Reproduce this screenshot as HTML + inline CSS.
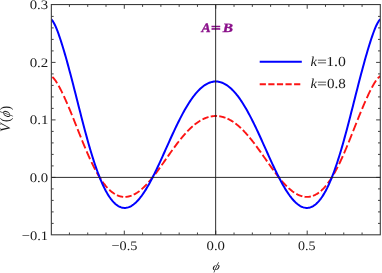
<!DOCTYPE html>
<html><head><meta charset="utf-8">
<style>
html,body{margin:0;padding:0;background:#fff;}
body{width:382px;height:273px;overflow:hidden;}
svg{display:block;}
text{font-family:"Liberation Serif",serif;fill:#1a1a1a;text-rendering:geometricPrecision;}
#txt{filter:blur(0.3px);}
</style></head><body>
<svg width="382" height="273" viewBox="0 0 382 273">
<rect width="382" height="273" fill="#fff"/>
<clipPath id="c"><rect x="51.35" y="4.55" width="328.95" height="230.25"/></clipPath>
<g clip-path="url(#c)" fill="none" stroke-linejoin="round">
<path d="M52.33,77.00 L52.69,77.31 L53.06,77.65 L53.43,78.03 L53.79,78.43 L54.16,78.87 L54.52,79.32 L54.89,79.80 L55.26,80.30 L55.62,80.82 L55.99,81.36 L56.35,81.92 L56.72,82.50 L57.08,83.09 L57.18,83.24 M58.64,85.77 L59.00,86.43 L59.37,87.11 L59.74,87.79 L60.10,88.49 L60.47,89.20 L60.83,89.92 L61.20,90.64 L61.57,91.38 L61.93,92.12 L62.30,92.88 L62.48,93.26 M63.85,96.16 L64.22,96.96 L64.58,97.76 L64.95,98.56 L65.31,99.38 L65.68,100.20 L66.05,101.02 L66.41,101.85 L66.78,102.69 L67.14,103.53 L67.33,103.96 M68.61,106.96 L68.97,107.83 L69.34,108.70 L69.70,109.58 L70.07,110.46 L70.44,111.34 L70.80,112.23 L71.17,113.12 L71.53,114.02 L71.90,114.92 L71.99,115.14 M73.18,118.09 L73.55,119.00 L73.91,119.91 L74.28,120.83 L74.64,121.75 L75.01,122.66 L75.37,123.58 L75.74,124.51 L76.11,125.43 L76.38,126.12 M77.57,129.12 L77.93,130.04 L78.30,130.97 L78.67,131.89 L79.03,132.81 L79.40,133.73 L79.76,134.65 L80.13,135.57 L80.50,136.48 L80.86,137.39 L80.86,137.39 M82.05,140.35 L82.42,141.25 L82.78,142.15 L83.15,143.05 L83.51,143.94 L83.88,144.83 L84.24,145.72 L84.61,146.60 L84.98,147.47 L85.34,148.35 L85.34,148.35 M86.62,151.36 L86.99,152.21 L87.35,153.06 L87.72,153.90 L88.09,154.73 L88.45,155.56 L88.82,156.38 L89.18,157.20 L89.55,158.01 L89.91,158.81 L90.10,159.21 M91.47,162.14 L91.84,162.91 L92.20,163.67 L92.57,164.42 L92.93,165.16 L93.30,165.90 L93.66,166.63 L94.03,167.35 L94.40,168.06 L94.76,168.77 L95.13,169.46 L95.22,169.64 M96.68,172.33 L97.05,172.99 L97.41,173.63 L97.78,174.27 L98.15,174.89 L98.51,175.51 L98.88,176.12 L99.24,176.72 L99.61,177.32 L99.97,177.90 L100.34,178.47 L100.71,179.04 L100.98,179.46 M102.53,181.74 L102.90,182.25 L103.27,182.75 L103.63,183.25 L104.00,183.73 L104.36,184.21 L104.73,184.67 L105.10,185.13 L105.46,185.58 L105.83,186.02 L106.19,186.45 L106.56,186.87 L106.92,187.29 L107.29,187.69 L107.47,187.89 M109.30,189.75 L109.67,190.10 L110.03,190.43 L110.40,190.76 L110.77,191.08 L111.13,191.39 L111.50,191.69 L111.86,191.98 L112.23,192.27 L112.59,192.54 L112.96,192.81 L113.33,193.07 L113.69,193.32 L114.06,193.56 L114.42,193.79 L114.79,194.01 L114.88,194.07 M116.98,195.18 L117.35,195.34 L117.72,195.50 L118.08,195.64 L118.45,195.78 L118.81,195.91 L119.18,196.04 L119.54,196.15 L119.91,196.26 L120.28,196.36 L120.64,196.45 L121.01,196.53 L121.37,196.60 L121.74,196.67 L122.11,196.73 L122.47,196.78 L122.84,196.82 L123.20,196.86 L123.20,196.86 M125.40,196.90 L125.76,196.88 L126.13,196.85 L126.49,196.82 L126.86,196.78 L127.23,196.73 L127.59,196.67 L127.96,196.60 L128.32,196.53 L128.69,196.45 L129.06,196.36 L129.42,196.27 L129.79,196.17 L130.15,196.06 L130.52,195.94 L130.88,195.82 L131.25,195.69 L131.62,195.55 L131.62,195.55 M133.72,194.63 L134.09,194.44 L134.45,194.25 L134.82,194.05 L135.18,193.85 L135.55,193.64 L135.91,193.42 L136.28,193.20 L136.65,192.96 L137.01,192.73 L137.38,192.48 L137.74,192.23 L138.11,191.98 L138.47,191.71 L138.84,191.45 L139.21,191.17 L139.48,190.96 M141.49,189.31 L141.86,189.00 L142.22,188.67 L142.59,188.34 L142.96,188.01 L143.32,187.67 L143.69,187.32 L144.05,186.97 L144.42,186.61 L144.78,186.25 L145.15,185.88 L145.52,185.51 L145.88,185.13 L146.25,184.75 L146.61,184.36 L146.80,184.17 M148.63,182.15 L148.99,181.73 L149.36,181.31 L149.72,180.89 L150.09,180.46 L150.45,180.02 L150.82,179.59 L151.19,179.14 L151.55,178.70 L151.92,178.25 L152.28,177.80 L152.65,177.34 L153.02,176.88 L153.38,176.42 L153.56,176.18 M155.21,174.05 L155.58,173.57 L155.94,173.08 L156.31,172.60 L156.67,172.11 L157.04,171.62 L157.40,171.12 L157.77,170.62 L158.14,170.12 L158.50,169.62 L158.87,169.12 L159.23,168.62 L159.60,168.11 L159.97,167.60 L159.97,167.60 M161.61,165.29 L161.98,164.78 L162.34,164.26 L162.71,163.74 L163.07,163.22 L163.44,162.70 L163.81,162.18 L164.17,161.66 L164.54,161.14 L164.90,160.62 L165.27,160.09 L165.64,159.57 L166.00,159.05 L166.18,158.79 M167.83,156.44 L168.20,155.92 L168.56,155.40 L168.93,154.88 L169.29,154.36 L169.66,153.84 L170.03,153.32 L170.39,152.81 L170.76,152.29 L171.12,151.78 L171.49,151.26 L171.85,150.75 L172.22,150.24 L172.40,149.99 M174.14,147.59 L174.51,147.09 L174.87,146.60 L175.24,146.10 L175.60,145.61 L175.97,145.12 L176.34,144.63 L176.70,144.15 L177.07,143.66 L177.43,143.18 L177.80,142.70 L178.16,142.23 L178.53,141.76 L178.90,141.29 L178.90,141.29 M180.54,139.21 L180.91,138.76 L181.27,138.31 L181.64,137.87 L182.00,137.43 L182.37,136.99 L182.74,136.55 L183.10,136.12 L183.47,135.69 L183.83,135.27 L184.20,134.85 L184.57,134.43 L184.93,134.02 L185.30,133.61 L185.57,133.30 M187.40,131.33 L187.77,130.95 L188.13,130.58 L188.50,130.20 L188.86,129.83 L189.23,129.47 L189.60,129.11 L189.96,128.75 L190.33,128.40 L190.69,128.06 L191.06,127.71 L191.42,127.38 L191.79,127.04 L192.16,126.71 L192.52,126.39 L192.70,126.23 M194.63,124.62 L194.99,124.33 L195.36,124.04 L195.72,123.76 L196.09,123.48 L196.45,123.21 L196.82,122.94 L197.19,122.68 L197.55,122.42 L197.92,122.17 L198.28,121.92 L198.65,121.68 L199.01,121.44 L199.38,121.21 L199.75,120.98 L200.11,120.76 L200.39,120.59 M202.49,119.43 L202.86,119.25 L203.22,119.07 L203.59,118.89 L203.95,118.72 L204.32,118.56 L204.68,118.40 L205.05,118.25 L205.42,118.10 L205.78,117.95 L206.15,117.82 L206.51,117.68 L206.88,117.55 L207.25,117.43 L207.61,117.31 L207.98,117.20 L208.34,117.09 L208.53,117.04 M210.72,116.52 L211.09,116.45 L211.45,116.39 L211.82,116.33 L212.18,116.27 L212.55,116.23 L212.92,116.18 L213.28,116.15 L213.65,116.11 L214.01,116.09 L214.38,116.06 L214.74,116.05 L215.11,116.04 L215.48,116.03 L215.84,116.03 L216.21,116.03 L216.57,116.04 L216.94,116.05 L217.03,116.06 M219.23,116.26 L219.59,116.31 L219.96,116.37 L220.32,116.43 L220.69,116.50 L221.05,116.57 L221.42,116.65 L221.79,116.73 L222.15,116.82 L222.52,116.92 L222.88,117.01 L223.25,117.12 L223.61,117.23 L223.98,117.34 L224.35,117.46 L224.71,117.58 L225.08,117.71 L225.44,117.85 L225.44,117.85 M227.55,118.72 L227.91,118.89 L228.28,119.07 L228.64,119.25 L229.01,119.43 L229.38,119.62 L229.74,119.82 L230.11,120.02 L230.47,120.22 L230.84,120.43 L231.21,120.65 L231.57,120.87 L231.94,121.09 L232.30,121.32 L232.67,121.56 L233.03,121.80 L233.40,122.04 L233.40,122.04 M235.41,123.48 L235.78,123.76 L236.14,124.04 L236.51,124.33 L236.87,124.62 L237.24,124.92 L237.61,125.22 L237.97,125.52 L238.34,125.84 L238.70,126.15 L239.07,126.47 L239.44,126.80 L239.80,127.13 L240.17,127.46 L240.53,127.80 L240.90,128.14 L240.90,128.14 M242.82,130.02 L243.19,130.39 L243.55,130.76 L243.92,131.14 L244.28,131.53 L244.65,131.91 L245.01,132.31 L245.38,132.70 L245.75,133.10 L246.11,133.51 L246.48,133.91 L246.84,134.33 L247.21,134.74 L247.57,135.16 L247.94,135.59 L247.94,135.59 M249.68,137.65 L250.04,138.09 L250.41,138.54 L250.78,138.99 L251.14,139.44 L251.51,139.90 L251.87,140.36 L252.24,140.82 L252.60,141.29 L252.97,141.76 L253.34,142.23 L253.70,142.70 L254.07,143.18 L254.43,143.66 L254.52,143.78 M256.26,146.10 L256.63,146.60 L256.99,147.09 L257.36,147.59 L257.73,148.09 L258.09,148.60 L258.46,149.10 L258.82,149.61 L259.19,150.12 L259.55,150.62 L259.92,151.14 L260.29,151.65 L260.65,152.16 L260.93,152.55 M262.57,154.88 L262.94,155.40 L263.30,155.92 L263.67,156.44 L264.04,156.96 L264.40,157.48 L264.77,158.00 L265.13,158.53 L265.50,159.05 L265.86,159.57 L266.23,160.09 L266.60,160.62 L266.96,161.14 L267.14,161.40 M268.79,163.74 L269.16,164.26 L269.52,164.78 L269.89,165.29 L270.25,165.81 L270.62,166.32 L270.99,166.83 L271.35,167.34 L271.72,167.85 L272.08,168.36 L272.45,168.87 L272.81,169.37 L273.18,169.87 L273.45,170.25 M275.10,172.47 L275.47,172.96 L275.83,173.45 L276.20,173.93 L276.56,174.41 L276.93,174.89 L277.30,175.36 L277.66,175.83 L278.03,176.30 L278.39,176.76 L278.76,177.22 L279.12,177.68 L279.49,178.14 L279.86,178.59 L279.86,178.59 M281.69,180.78 L282.05,181.21 L282.42,181.63 L282.78,182.05 L283.15,182.46 L283.51,182.87 L283.88,183.28 L284.25,183.68 L284.61,184.07 L284.98,184.46 L285.34,184.85 L285.71,185.23 L286.08,185.60 L286.44,185.98 L286.81,186.34 L286.81,186.34 M288.64,188.09 L289.00,188.43 L289.37,188.75 L289.73,189.08 L290.10,189.39 L290.46,189.70 L290.83,190.01 L291.20,190.31 L291.56,190.60 L291.93,190.89 L292.29,191.17 L292.66,191.45 L293.03,191.71 L293.39,191.98 L293.76,192.23 L294.12,192.48 L294.21,192.54 M296.32,193.85 L296.68,194.05 L297.05,194.25 L297.41,194.44 L297.78,194.63 L298.15,194.80 L298.51,194.97 L298.88,195.14 L299.24,195.30 L299.61,195.45 L299.98,195.59 L300.34,195.72 L300.71,195.85 L301.07,195.97 L301.44,196.09 L301.80,196.19 L302.17,196.29 L302.35,196.34 M304.55,196.76 L304.91,196.81 L305.28,196.84 L305.65,196.87 L306.01,196.90 L306.38,196.91 L306.74,196.92 L307.11,196.91 L307.47,196.90 L307.84,196.89 L308.21,196.86 L308.57,196.83 L308.94,196.79 L309.30,196.74 L309.67,196.69 L310.03,196.62 L310.40,196.55 L310.77,196.47 L310.86,196.45 M312.96,195.82 L313.33,195.68 L313.69,195.53 L314.06,195.38 L314.42,195.22 L314.79,195.05 L315.16,194.87 L315.52,194.68 L315.89,194.48 L316.25,194.28 L316.62,194.07 L316.99,193.85 L317.35,193.62 L317.72,193.38 L318.08,193.13 L318.45,192.88 L318.81,192.61 L318.91,192.54 M320.83,191.00 L321.19,190.68 L321.56,190.35 L321.92,190.01 L322.29,189.66 L322.66,189.31 L323.02,188.94 L323.39,188.57 L323.75,188.18 L324.12,187.79 L324.48,187.39 L324.85,186.98 L325.22,186.56 L325.58,186.13 L325.95,185.69 L326.04,185.58 M327.78,183.37 L328.14,182.88 L328.51,182.38 L328.87,181.87 L329.24,181.35 L329.61,180.82 L329.97,180.28 L330.34,179.74 L330.70,179.18 L331.07,178.62 L331.43,178.04 L331.80,177.46 L332.17,176.87 L332.26,176.72 M333.81,174.11 L334.18,173.47 L334.54,172.82 L334.91,172.17 L335.28,171.50 L335.64,170.83 L336.01,170.15 L336.37,169.46 L336.74,168.77 L337.10,168.06 L337.47,167.35 L337.74,166.81 M339.12,164.04 L339.48,163.29 L339.85,162.53 L340.21,161.76 L340.58,160.98 L340.95,160.20 L341.31,159.41 L341.68,158.61 L342.04,157.80 L342.41,156.99 L342.77,156.18 L342.77,156.18 M344.05,153.27 L344.42,152.43 L344.79,151.58 L345.15,150.72 L345.52,149.86 L345.88,149.00 L346.25,148.13 L346.61,147.25 L346.98,146.38 L347.35,145.49 L347.44,145.27 M348.63,142.38 L348.99,141.48 L349.36,140.57 L349.72,139.67 L350.09,138.76 L350.46,137.85 L350.82,136.94 L351.19,136.02 L351.55,135.11 L351.92,134.19 L351.92,134.19 M353.11,131.20 L353.47,130.27 L353.84,129.35 L354.21,128.43 L354.57,127.50 L354.94,126.58 L355.30,125.66 L355.67,124.74 L356.03,123.81 L356.40,122.89 L356.40,122.89 M357.59,119.91 L357.95,119.00 L358.32,118.09 L358.69,117.18 L359.05,116.27 L359.42,115.37 L359.78,114.47 L360.15,113.57 L360.52,112.68 L360.88,111.79 L360.88,111.79 M362.07,108.92 L362.44,108.04 L362.80,107.17 L363.17,106.31 L363.53,105.45 L363.90,104.60 L364.26,103.75 L364.63,102.90 L365.00,102.06 L365.36,101.23 L365.45,101.02 M366.73,98.16 L367.10,97.36 L367.47,96.56 L367.83,95.77 L368.20,94.99 L368.56,94.21 L368.93,93.45 L369.29,92.69 L369.66,91.94 L370.03,91.19 L370.39,90.46 L370.48,90.28 M371.86,87.62 L372.22,86.94 L372.59,86.26 L372.95,85.60 L373.32,84.95 L373.68,84.32 L374.05,83.70 L374.42,83.09 L374.78,82.50 L375.15,81.92 L375.51,81.36 L375.88,80.82 L376.06,80.56 M377.80,78.33 L378.17,77.93 L378.53,77.57 L378.90,77.23 L379.26,76.92 L379.63,76.65 L379.99,76.42 L380.36,76.23 L380.36,76.23" stroke="#fc1414" stroke-width="1.9"/>
<path d="M51.14,19.32 L52.05,20.19 L52.97,21.41 L53.88,22.93 L54.80,24.71 L55.71,26.70 L56.63,28.89 L57.54,31.23 L58.46,33.71 L59.37,36.32 L60.28,39.03 L61.20,41.84 L62.11,44.74 L63.03,47.72 L63.94,50.78 L64.86,53.90 L65.77,57.09 L66.69,60.34 L67.60,63.64 L68.52,67.00 L69.43,70.40 L70.34,73.84 L71.26,77.32 L72.17,80.83 L73.09,84.37 L74.00,87.93 L74.92,91.52 L75.83,95.11 L76.75,98.72 L77.66,102.32 L78.57,105.93 L79.49,109.52 L80.40,113.11 L81.32,116.67 L82.23,120.21 L83.15,123.72 L84.06,127.20 L84.98,130.64 L85.89,134.04 L86.81,137.38 L87.72,140.68 L88.63,143.92 L89.55,147.10 L90.46,150.21 L91.38,153.26 L92.29,156.24 L93.21,159.14 L94.12,161.97 L95.04,164.73 L95.95,167.40 L96.86,169.99 L97.78,172.50 L98.69,174.93 L99.61,177.27 L100.52,179.52 L101.44,181.69 L102.35,183.77 L103.27,185.76 L104.18,187.67 L105.10,189.48 L106.01,191.21 L106.92,192.85 L107.84,194.40 L108.75,195.86 L109.67,197.24 L110.58,198.53 L111.50,199.73 L112.41,200.85 L113.33,201.88 L114.24,202.83 L115.15,203.69 L116.07,204.47 L116.98,205.17 L117.90,205.79 L118.81,206.33 L119.73,206.78 L120.64,207.16 L121.56,207.46 L122.47,207.68 L123.39,207.82 L124.30,207.89 L125.21,207.88 L126.13,207.80 L127.04,207.64 L127.96,207.41 L128.87,207.10 L129.79,206.73 L130.70,206.28 L131.62,205.76 L132.53,205.18 L133.44,204.53 L134.36,203.81 L135.27,203.02 L136.19,202.17 L137.10,201.25 L138.02,200.28 L138.93,199.24 L139.85,198.14 L140.76,196.98 L141.68,195.77 L142.59,194.50 L143.50,193.17 L144.42,191.79 L145.33,190.37 L146.25,188.89 L147.16,187.36 L148.08,185.79 L148.99,184.17 L149.91,182.51 L150.82,180.81 L151.74,179.08 L152.65,177.30 L153.56,175.50 L154.48,173.66 L155.39,171.79 L156.31,169.90 L157.22,167.98 L158.14,166.03 L159.05,164.07 L159.97,162.09 L160.88,160.09 L161.79,158.08 L162.71,156.06 L163.62,154.03 L164.54,151.99 L165.45,149.95 L166.37,147.91 L167.28,145.87 L168.20,143.83 L169.11,141.80 L170.03,139.78 L170.94,137.77 L171.85,135.76 L172.77,133.78 L173.68,131.80 L174.60,129.85 L175.51,127.92 L176.43,126.01 L177.34,124.12 L178.26,122.26 L179.17,120.43 L180.08,118.63 L181.00,116.85 L181.91,115.11 L182.83,113.40 L183.74,111.73 L184.66,110.10 L185.57,108.50 L186.49,106.94 L187.40,105.42 L188.31,103.94 L189.23,102.51 L190.14,101.11 L191.06,99.76 L191.97,98.46 L192.89,97.20 L193.80,95.99 L194.72,94.82 L195.63,93.70 L196.55,92.62 L197.46,91.60 L198.37,90.62 L199.29,89.69 L200.20,88.81 L201.12,87.98 L202.03,87.20 L202.95,86.47 L203.86,85.78 L204.78,85.15 L205.69,84.57 L206.60,84.04 L207.52,83.56 L208.43,83.13 L209.35,82.75 L210.26,82.42 L211.18,82.14 L212.09,81.91 L213.01,81.73 L213.92,81.61 L214.84,81.53 L215.75,81.51 L216.66,81.53 L217.58,81.61 L218.49,81.73 L219.41,81.91 L220.32,82.14 L221.24,82.42 L222.15,82.75 L223.07,83.13 L223.98,83.56 L224.90,84.04 L225.81,84.57 L226.72,85.15 L227.64,85.78 L228.55,86.47 L229.47,87.20 L230.38,87.98 L231.30,88.81 L232.21,89.69 L233.13,90.62 L234.04,91.60 L234.95,92.62 L235.87,93.70 L236.78,94.82 L237.70,95.99 L238.61,97.20 L239.53,98.46 L240.44,99.76 L241.36,101.11 L242.27,102.51 L243.19,103.94 L244.10,105.42 L245.01,106.94 L245.93,108.50 L246.84,110.10 L247.76,111.73 L248.67,113.40 L249.59,115.11 L250.50,116.85 L251.42,118.63 L252.33,120.43 L253.24,122.26 L254.16,124.12 L255.07,126.01 L255.99,127.92 L256.90,129.85 L257.82,131.80 L258.73,133.78 L259.65,135.76 L260.56,137.77 L261.48,139.78 L262.39,141.80 L263.30,143.83 L264.22,145.87 L265.13,147.91 L266.05,149.95 L266.96,151.99 L267.88,154.03 L268.79,156.06 L269.71,158.08 L270.62,160.09 L271.53,162.09 L272.45,164.07 L273.36,166.03 L274.28,167.98 L275.19,169.90 L276.11,171.79 L277.02,173.66 L277.94,175.50 L278.85,177.30 L279.76,179.08 L280.68,180.81 L281.59,182.51 L282.51,184.17 L283.42,185.79 L284.34,187.36 L285.25,188.89 L286.17,190.37 L287.08,191.79 L288.00,193.17 L288.91,194.50 L289.82,195.77 L290.74,196.98 L291.65,198.14 L292.57,199.24 L293.48,200.28 L294.40,201.25 L295.31,202.17 L296.23,203.02 L297.14,203.81 L298.06,204.53 L298.97,205.18 L299.88,205.76 L300.80,206.28 L301.71,206.73 L302.63,207.10 L303.54,207.41 L304.46,207.64 L305.37,207.80 L306.29,207.88 L307.20,207.89 L308.11,207.82 L309.03,207.68 L309.94,207.46 L310.86,207.16 L311.77,206.78 L312.69,206.33 L313.60,205.79 L314.52,205.17 L315.43,204.47 L316.34,203.69 L317.26,202.83 L318.17,201.88 L319.09,200.85 L320.00,199.73 L320.92,198.53 L321.83,197.24 L322.75,195.86 L323.66,194.40 L324.58,192.85 L325.49,191.21 L326.40,189.48 L327.32,187.67 L328.23,185.76 L329.15,183.77 L330.06,181.69 L330.98,179.52 L331.89,177.27 L332.81,174.93 L333.72,172.50 L334.63,169.99 L335.55,167.40 L336.46,164.73 L337.38,161.97 L338.29,159.14 L339.21,156.24 L340.12,153.26 L341.04,150.21 L341.95,147.10 L342.87,143.92 L343.78,140.68 L344.69,137.38 L345.61,134.04 L346.52,130.64 L347.44,127.20 L348.35,123.72 L349.27,120.21 L350.18,116.67 L351.10,113.11 L352.01,109.52 L352.93,105.93 L353.84,102.32 L354.75,98.72 L355.67,95.11 L356.58,91.52 L357.50,87.93 L358.41,84.37 L359.33,80.83 L360.24,77.32 L361.16,73.84 L362.07,70.40 L362.98,67.00 L363.90,63.64 L364.81,60.34 L365.73,57.09 L366.64,53.90 L367.56,50.78 L368.47,47.72 L369.39,44.74 L370.30,41.84 L371.22,39.03 L372.13,36.32 L373.04,33.71 L373.96,31.23 L374.87,28.89 L375.79,26.70 L376.70,24.71 L377.62,22.93 L378.53,21.41 L379.45,20.19 L380.36,19.32" stroke="#0000ff" stroke-width="2"/>
</g>
<g stroke="#2a2a2a" stroke-width="0.9" fill="none">
<path d="M69.43,234.8 v-2.3 M69.43,4.55 v2.3"/>
<path d="M87.72,234.8 v-2.3 M87.72,4.55 v2.3"/>
<path d="M106.01,234.8 v-2.3 M106.01,4.55 v2.3"/>
<path d="M124.30,234.8 v-4.2 M124.30,4.55 v4.2"/>
<path d="M142.59,234.8 v-2.3 M142.59,4.55 v2.3"/>
<path d="M160.88,234.8 v-2.3 M160.88,4.55 v2.3"/>
<path d="M179.17,234.8 v-2.3 M179.17,4.55 v2.3"/>
<path d="M197.46,234.8 v-2.3 M197.46,4.55 v2.3"/>
<path d="M215.75,234.8 v-4.2 M215.75,4.55 v4.2"/>
<path d="M234.04,234.8 v-2.3 M234.04,4.55 v2.3"/>
<path d="M252.33,234.8 v-2.3 M252.33,4.55 v2.3"/>
<path d="M270.62,234.8 v-2.3 M270.62,4.55 v2.3"/>
<path d="M288.91,234.8 v-2.3 M288.91,4.55 v2.3"/>
<path d="M307.20,234.8 v-4.2 M307.20,4.55 v4.2"/>
<path d="M325.49,234.8 v-2.3 M325.49,4.55 v2.3"/>
<path d="M343.78,234.8 v-2.3 M343.78,4.55 v2.3"/>
<path d="M362.07,234.8 v-2.3 M362.07,4.55 v2.3"/>
<path d="M51.35,223.40 h2.3 M380.3,223.40 h-2.3"/>
<path d="M51.35,211.90 h2.3 M380.3,211.90 h-2.3"/>
<path d="M51.35,200.40 h2.3 M380.3,200.40 h-2.3"/>
<path d="M51.35,188.90 h2.3 M380.3,188.90 h-2.3"/>
<path d="M51.35,177.40 h4.2 M380.3,177.40 h-4.2"/>
<path d="M51.35,165.90 h2.3 M380.3,165.90 h-2.3"/>
<path d="M51.35,154.40 h2.3 M380.3,154.40 h-2.3"/>
<path d="M51.35,142.90 h2.3 M380.3,142.90 h-2.3"/>
<path d="M51.35,131.40 h2.3 M380.3,131.40 h-2.3"/>
<path d="M51.35,119.90 h4.2 M380.3,119.90 h-4.2"/>
<path d="M51.35,108.40 h2.3 M380.3,108.40 h-2.3"/>
<path d="M51.35,96.90 h2.3 M380.3,96.90 h-2.3"/>
<path d="M51.35,85.40 h2.3 M380.3,85.40 h-2.3"/>
<path d="M51.35,73.90 h2.3 M380.3,73.90 h-2.3"/>
<path d="M51.35,62.40 h4.2 M380.3,62.40 h-4.2"/>
<path d="M51.35,50.90 h2.3 M380.3,50.90 h-2.3"/>
<path d="M51.35,39.40 h2.3 M380.3,39.40 h-2.3"/>
<path d="M51.35,27.90 h2.3 M380.3,27.90 h-2.3"/>
<path d="M51.35,16.40 h2.3 M380.3,16.40 h-2.3"/>
</g>
<rect x="51.35" y="4.55" width="328.95" height="230.25" fill="none" stroke="#3c3c3c" stroke-width="1.1"/>
<!-- legend -->
<path d="M259.7,61.75 H301.8" stroke="#0000ff" stroke-width="2" fill="none"/>
<path d="M259.7,84.3 H301.8" stroke="#fc1414" stroke-width="1.9" stroke-dasharray="6.2 2.4" fill="none"/>
<g id="txt">
<text transform="translate(111.49,250.00) scale(1.097,1)" font-size="13.0">−0.5</text>
<text transform="translate(206.54,250.00) scale(1.134,1)" font-size="13.0">0.0</text>
<text transform="translate(298.07,250.00) scale(1.076,1)" font-size="13.0">0.5</text>
<text transform="translate(29.64,9.40) scale(1.135,1)" font-size="13.0">0.3</text>
<text transform="translate(29.63,66.90) scale(1.150,1)" font-size="13.0">0.2</text>
<text transform="translate(29.63,124.40) scale(1.155,1)" font-size="13.0">0.1</text>
<text transform="translate(29.64,181.90) scale(1.134,1)" font-size="13.0">0.0</text>
<text transform="translate(21.68,239.50) scale(1.119,1)" font-size="13.0">−0.1</text>
<text transform="translate(310.48,65.60) scale(1.062,1)" font-size="13.8" font-style="italic">k</text>
<text transform="translate(316.92,65.60) scale(1.277,1)" font-size="13.8">=</text>
<text transform="translate(326.22,65.60) scale(1.141,1)" font-size="13.8">1.0</text>
<text transform="translate(310.48,88.10) scale(1.062,1)" font-size="13.8" font-style="italic">k</text>
<text transform="translate(316.92,88.10) scale(1.277,1)" font-size="13.8">=</text>
<text transform="translate(327.03,88.10) scale(1.093,1)" font-size="13.8">0.8</text>
<text transform="translate(201.51,31.60) scale(1.072,1)" font-size="12.8" font-style="italic" font-weight="bold" style="fill:#8a108a;stroke:#8a108a;stroke-width:0.35">A</text>
<text transform="translate(211.03,31.60) scale(1.311,1)" font-size="12.8" font-style="italic" font-weight="bold" style="fill:#8a108a;stroke:#8a108a;stroke-width:0.7">=</text>
<text transform="translate(222.64,31.60) scale(1.198,1)" font-size="12.8" font-style="italic" font-weight="bold" style="fill:#8a108a;stroke:#8a108a;stroke-width:0.35">B</text>
<text transform="translate(211.91,270.10) skewX(-14) scale(1.202,1)" font-size="11.3" font-style="italic">ϕ</text>
<g transform="translate(10.3,119) scale(1.2,1) rotate(-90)"><text transform="translate(-12.93,0.00) scale(1.171,1)" font-size="12" font-style="italic">V</text><text transform="translate(-2.98,0.00) scale(1.103,1)" font-size="12">(</text><text transform="translate(1.30,0.00) skewX(-14) scale(1.008,1)" font-size="12" font-style="italic">ϕ</text><text transform="translate(8.77,0.00) scale(1.103,1)" font-size="12">)</text></g>
</g>
<g stroke="#222" stroke-width="0.95" fill="none">
<path d="M51.35,177.40 H380.3"/>
<path d="M215.65,4.55 V234.8"/>
</g>
</svg>
</body></html>
